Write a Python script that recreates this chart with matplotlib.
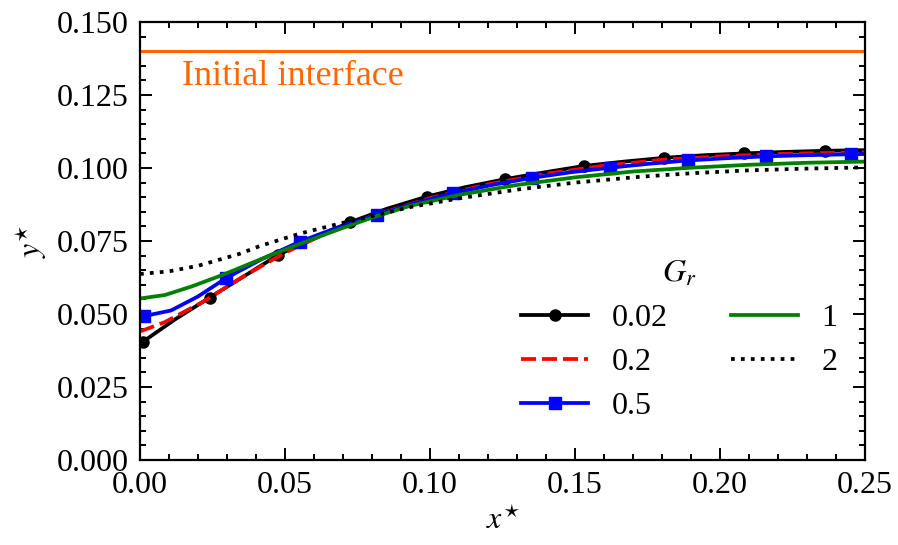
import matplotlib
matplotlib.use('Agg')
import matplotlib.pyplot as plt
from matplotlib.ticker import MultipleLocator, FormatStrFormatter

plt.rcParams['font.family'] = ['Liberation Serif', 'DejaVu Serif']
plt.rcParams['mathtext.fontset'] = 'stix'

# Gr = 0.02 (line with circle markers)
x_002 = [0.0, 0.001, 0.012, 0.024, 0.036, 0.0476, 0.060, 0.0724, 0.085, 0.0989, 0.112,
         0.126, 0.140, 0.1531, 0.167, 0.1808, 0.195, 0.2084, 0.222, 0.2362, 0.25]
y_002 = [0.0400, 0.0405, 0.0481, 0.0556, 0.0630, 0.0702, 0.0760, 0.0814, 0.0860, 0.0902, 0.0934,
         0.0962, 0.0986, 0.1007, 0.1022, 0.1035, 0.1044, 0.1050, 0.1055, 0.1059, 0.1061]
mark_002 = [1, 3, 5, 7, 9, 11, 13, 15, 17, 19]

# Gr = 0.2 (dashed)
x_02 = [0.0, 0.0085, 0.0223, 0.035, 0.05, 0.065, 0.08, 0.10, 0.12, 0.14, 0.16, 0.18, 0.20, 0.22, 0.25]
y_02 = [0.0440, 0.0472, 0.0545, 0.0625, 0.0710, 0.0780, 0.0835, 0.0897, 0.0944, 0.0980,
        0.1008, 0.1028, 0.1040, 0.1048, 0.1054]

# Gr = 0.5 (line with square markers)
x_05 = [0.0, 0.0015, 0.0107, 0.020, 0.0297, 0.042, 0.0552, 0.068, 0.0816, 0.095, 0.108,
        0.122, 0.135, 0.149, 0.162, 0.176, 0.189, 0.203, 0.216, 0.230, 0.245, 0.25]
y_05 = [0.0490, 0.0493, 0.0512, 0.0560, 0.0623, 0.0688, 0.0748, 0.0796, 0.0839, 0.0880, 0.0914,
        0.0943, 0.0966, 0.0986, 0.1001, 0.1015, 0.1026, 0.1034, 0.1040, 0.1044, 0.1047, 0.1048]
mark_05 = [1, 4, 6, 8, 10, 12, 14, 16, 18, 20]

# Gr = 1 (green)
x_1 = [0.0, 0.0086, 0.018, 0.028, 0.041, 0.055, 0.07, 0.08, 0.093, 0.11, 0.13, 0.15, 0.17,
       0.19, 0.21, 0.23, 0.25]
y_1 = [0.0553, 0.0565, 0.0595, 0.0632, 0.0685, 0.0740, 0.0795, 0.0830, 0.0870, 0.0908, 0.0942,
       0.0968, 0.0988, 0.1001, 0.1011, 0.1018, 0.1022]

# Gr = 2 (dotted)
x_2 = [0.0, 0.01, 0.02, 0.034, 0.0414, 0.055, 0.069, 0.08, 0.0931, 0.11, 0.13, 0.15, 0.1724,
       0.19, 0.21, 0.23, 0.25]
y_2 = [0.0637, 0.0646, 0.0665, 0.0705, 0.0733, 0.0775, 0.0810, 0.0835, 0.0866, 0.0896, 0.0926,
       0.0950, 0.0970, 0.0982, 0.0992, 0.0998, 0.1002]

y_initial = 0.14

fig = plt.figure(figsize=(8.98, 5.45), dpi=100)
ax = fig.add_axes([0.1559, 0.156, 0.8074, 0.8036])

lw = 2.7
ax.axhline(y_initial, color='#ff6600', lw=2.2)
ax.text(0.0145, 0.1315, 'Initial interface', color='#ff6600', fontsize=26, va='center')

ax.plot(x_002, y_002, color='black', lw=lw, marker='o', markersize=8, markevery=mark_002, label='0.02')
ax.plot(x_02, y_02, color='red', lw=lw, dashes=(4, 1.6), label='0.2')
ax.plot(x_05, y_05, color='blue', lw=lw, marker='s', markersize=8, markevery=mark_05, label='0.5')
ax.plot(x_1, y_1, color='green', lw=lw, label='1')
ax.plot(x_2, y_2, color='black', lw=lw, linestyle=':', label='2')

ax.set_xlim(0, 0.25)
ax.set_ylim(0, 0.15)
ax.xaxis.set_major_locator(MultipleLocator(0.05))
ax.xaxis.set_minor_locator(MultipleLocator(0.01))
ax.yaxis.set_major_locator(MultipleLocator(0.025))
ax.yaxis.set_minor_locator(MultipleLocator(0.005))
ax.xaxis.set_major_formatter(FormatStrFormatter('%.2f'))
ax.yaxis.set_major_formatter(FormatStrFormatter('%.3f'))
ax.tick_params(which='both', direction='in', top=True, right=True, labelsize=23, width=1.4)
ax.tick_params(which='major', length=8.5, pad=8)
ax.tick_params(which='minor', length=4)
for s in ax.spines.values():
    s.set_linewidth(1.6)

ax.set_xlabel(r'$x^{\star}$', fontsize=23, labelpad=5)
ax.set_ylabel(r'$y^{\star}$', fontsize=23, labelpad=6)

leg = ax.legend(ncol=2, loc='upper left', bbox_to_anchor=(0.504, 0.495), frameon=False,
                title=r'$G_r$', fontsize=23, title_fontsize=23, handlelength=2.1,
                handletextpad=0.72, columnspacing=2.0, labelspacing=0.47, borderpad=0)

fig.savefig('out.png', dpi=100)
